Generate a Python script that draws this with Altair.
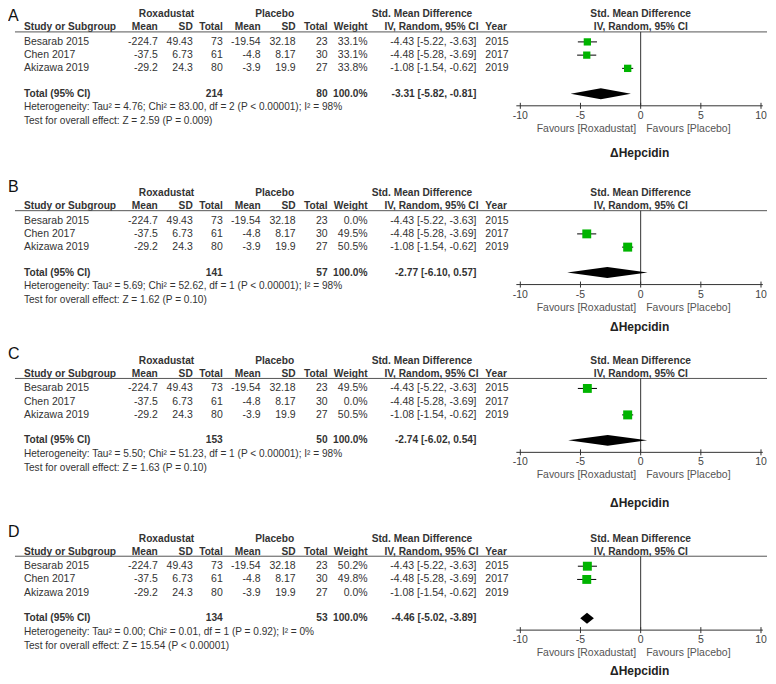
import altair as alt
import pandas as pd

# ---------------- data ----------------
studies = ["Besarab 2015", "Chen 2017", "Akizawa 2019"]
years = [2015, 2017, 2019]
rox_mean = [-224.7, -37.5, -29.2]
rox_sd = [49.43, 6.73, 24.3]
rox_n = [73, 61, 80]
pla_mean = [-19.54, -4.8, -3.9]
pla_sd = [32.18, 8.17, 19.9]
pla_n = [23, 30, 27]
smd = [-4.43, -4.48, -1.08]
smd_lo = [-5.22, -5.28, -1.54]
smd_hi = [-3.63, -3.69, -0.62]

panel_names = ["A", "B", "C", "D"]
panel_weights = [
    [33.1, 33.1, 33.8],
    [0.0, 49.5, 50.5],
    [49.5, 0.0, 50.5],
    [50.2, 49.8, 0.0],
]
total_rox = [214, 141, 153, 134]
total_pla = [80, 57, 50, 53]
pooled = [-3.31, -2.77, -2.74, -4.46]
pooled_lo = [-5.82, -6.10, -6.02, -5.02]
pooled_hi = [-0.81, 0.57, 0.54, -3.89]
heterogeneity = [
    "Heterogeneity: Tau\u00b2 = 4.76; Chi\u00b2 = 83.00, df = 2 (P < 0.00001); I\u00b2 = 98%",
    "Heterogeneity: Tau\u00b2 = 5.69; Chi\u00b2 = 52.62, df = 1 (P < 0.00001); I\u00b2 = 98%",
    "Heterogeneity: Tau\u00b2 = 5.50; Chi\u00b2 = 51.23, df = 1 (P < 0.00001); I\u00b2 = 98%",
    "Heterogeneity: Tau\u00b2 = 0.00; Chi\u00b2 = 0.01, df = 1 (P = 0.92); I\u00b2 = 0%",
]
overall_test = [
    "Test for overall effect: Z = 2.59 (P = 0.009)",
    "Test for overall effect: Z = 1.62 (P = 0.10)",
    "Test for overall effect: Z = 1.63 (P = 0.10)",
    "Test for overall effect: Z = 15.54 (P < 0.00001)",
]
axis_ticks = [-10, -5, 0, 5, 10]
outcome = "\u0394Hepcidin"
favours_left = "Favours [Roxadustat]"
favours_right = "Favours [Placebo]"

# ---------------- layout / style ----------------
FONT = "Liberation Sans"
TXT = "#333333"
GREEN = "#00b400"
W = 760
PANEL_H = [170, 168, 176, 154]
HEAD_Y = [5, 14, 14, 16]
OUTCOME_DY = [139, 134, 142, 132]
X_DOMAIN = [-10, 10]
X_RANGE = [513, 754]
XS = alt.Scale(domain=X_DOMAIN, range=X_RANGE)
FS = 10.5
FSB = 10.2
NP = len(panel_names)


def x_px(v):
    # same linear mapping as the x scale (for the reference lines only)
    return X_RANGE[0] + (v - X_DOMAIN[0]) / (X_DOMAIN[1] - X_DOMAIN[0]) * (X_RANGE[1] - X_RANGE[0])


tops = [sum(PANEL_H[:k]) for k in range(NP)]
R = [tops[k] + HEAD_Y[k] for k in range(NP)]
Y_LINE = [r + 17.5 for r in R]
Y_TOTAL = [r + 79.5 for r in R]
Y_AXIS = [r + 91.5 for r in R]


def texts(values, x, ys, align="left", bold=False, size=FS, color=TXT):
    if isinstance(values, str):
        values = [values] * len(ys)
    d = pd.DataFrame({"t": values, "ty": ys})
    return alt.Chart(d).mark_text(
        align=align, baseline="middle", font=FONT, fontSize=size,
        fontWeight="bold" if bold else "normal", color=color,
    ).encode(
        x=alt.value(x),
        y=alt.Y("ty:Q", scale=None, axis=None),
        text="t:N",
    )


recs = []
for k in range(NP):
    for i in range(len(studies)):
        w = panel_weights[k][i]
        recs.append({
            "panel": panel_names[k],
            "study": studies[i],
            "rm": f"{rox_mean[i]:g}",
            "rsd": f"{rox_sd[i]:g}",
            "rn": str(rox_n[i]),
            "pm": f"{pla_mean[i]:g}",
            "psd": f"{pla_sd[i]:g}",
            "pn": str(pla_n[i]),
            "w": w,
            "wt": f"{w:.1f}%",
            "ci": f"{smd[i]:.2f} [{smd_lo[i]:.2f}, {smd_hi[i]:.2f}]",
            "year": str(years[i]),
            "smd": smd[i],
            "lo": smd_lo[i],
            "hi": smd_hi[i],
            "y": R[k] + 27.5 + 13.25 * i,
        })
rows = pd.DataFrame(recs)


def column(field, x, align="right"):
    return alt.Chart(rows).mark_text(
        align=align, baseline="middle", font=FONT, fontSize=FS, color=TXT
    ).encode(
        x=alt.value(x),
        y=alt.Y("y:Q", scale=None, axis=None),
        text=f"{field}:N",
    )


layers = []
layers.append(texts(panel_names, 0, [max(r - 6.5, 7) for r in R], size=16, color="#111"))
H1 = R
H2 = [r + 13 for r in R]
layers += [
    texts("Roxadustat", 158.7, H1, "center", True, FSB),
    texts("Placebo", 267, H1, "center", True, FSB),
    texts("Std. Mean Difference", 414.5, H1, "center", True, FSB),
    texts("Std. Mean Difference", 633.5, H1, "center", True, FSB),
    texts("Study or Subgroup", 16, H2, "left", True, FSB),
    texts("Mean", 150, H2, "right", True, FSB),
    texts("SD", 185, H2, "right", True, FSB),
    texts("Total", 215, H2, "right", True, FSB),
    texts("Mean", 253, H2, "right", True, FSB),
    texts("SD", 288, H2, "right", True, FSB),
    texts("Total", 320, H2, "right", True, FSB),
    texts("Weight", 360, H2, "right", True, FSB),
    texts("IV, Random, 95% CI", 424, H2, "center", True, FSB),
    texts("Year", 478, H2, "left", True, FSB),
    texts("IV, Random, 95% CI", 633.7, H2, "center", True, FSB),
]
# header rules
layers.append(
    alt.Chart(pd.DataFrame({"hy": Y_LINE})).mark_rule(color="#555", strokeWidth=1).encode(
        x=alt.value(7), x2=alt.value(W), y=alt.Y("hy:Q", scale=None, axis=None)
    )
)
# zero (no-effect) lines and axis lines
layers.append(
    alt.Chart(pd.DataFrame({"zy0": Y_LINE, "zy1": Y_AXIS})).mark_rule(color="#333", strokeWidth=1).encode(
        x=alt.value(x_px(0)), y=alt.Y("zy0:Q", scale=None, axis=None), y2="zy1:Q"
    )
)
layers.append(
    alt.Chart(pd.DataFrame({"ay": Y_AXIS})).mark_rule(color="#333", strokeWidth=1).encode(
        x=alt.value(x_px(min(axis_ticks) - 0.33)), x2=alt.value(x_px(max(axis_ticks) + 0.15)),
        y=alt.Y("ay:Q", scale=None, axis=None),
    )
)
layers += [
    column("study", 16, "left"),
    column("rm", 150),
    column("rsd", 185),
    column("rn", 215),
    column("pm", 253),
    column("psd", 288),
    column("pn", 320),
    column("wt", 360),
    column("ci", 469),
    column("year", 478, "left"),
]
layers += [
    texts("Total (95% CI)", 16, Y_TOTAL, "left", True, FSB),
    texts([str(v) for v in total_rox], 215, Y_TOTAL, "right", True, FSB),
    texts([str(v) for v in total_pla], 320, Y_TOTAL, "right", True, FSB),
    texts("100.0%", 360, Y_TOTAL, "right", True, FSB),
    texts([f"{a:.2f} [{b:.2f}, {c:.2f}]" for a, b, c in zip(pooled, pooled_lo, pooled_hi)],
          469, Y_TOTAL, "right", True, FSB),
    texts(heterogeneity, 16, [r + 93 for r in R], size=10.1),
    texts(overall_test, 16, [r + 107 for r in R], size=10.1),
]

# ---- forest plots: data positions go through the x scale ----
gx, gy, gy2 = [], [], []
for k in range(NP):
    for t in axis_ticks:
        gx += [t]; gy += [Y_AXIS[k] - 3]; gy2 += [Y_AXIS[k] + 3]
ticks = alt.Chart(pd.DataFrame({"gx": gx, "gy": gy, "gy2": gy2})).mark_rule(
    color="#333", strokeWidth=1
).encode(
    x=alt.X("gx:Q", scale=XS, axis=None),
    y=alt.Y("gy:Q", scale=None, axis=None),
    y2="gy2:Q",
)
tl = pd.DataFrame({
    "tv": axis_ticks * NP,
    "tlab": [str(v) for v in axis_ticks] * NP,
    "tly": [Y_AXIS[k] + 10 for k in range(NP) for _ in axis_ticks],
})
tick_labels = alt.Chart(tl).mark_text(
    font=FONT, fontSize=FS, color="#444", baseline="middle", align="center"
).encode(
    x=alt.X("tv:Q", scale=XS, axis=None),
    y=alt.Y("tly:Q", scale=None, axis=None),
    text="tlab:N",
)
ci = alt.Chart(rows).transform_filter("datum.w > 0").mark_rule(color="black", strokeWidth=1).encode(
    x=alt.X("lo:Q", scale=XS, axis=None),
    x2="hi:Q",
    y=alt.Y("y:Q", scale=None, axis=None),
)
squares = alt.Chart(rows).transform_filter("datum.w > 0").mark_square(
    filled=True, color=GREEN, opacity=1
).encode(
    x=alt.X("smd:Q", scale=XS, axis=None),
    y=alt.Y("y:Q", scale=None, axis=None),
    size=alt.Size("w:Q", scale=alt.Scale(domain=[0, 100], range=[0, 160]), legend=None),
)
drec = []
for k in range(NP):
    yt = Y_TOTAL[k]
    drec += [
        {"dp": panel_names[k], "dx": pooled_lo[k], "dtop": yt, "dbot": yt},
        {"dp": panel_names[k], "dx": pooled[k], "dtop": yt - 5.5, "dbot": yt + 5.5},
        {"dp": panel_names[k], "dx": pooled_hi[k], "dtop": yt, "dbot": yt},
    ]
diamond = alt.Chart(pd.DataFrame(drec)).mark_area(color="black", opacity=1, interpolate="linear").encode(
    x=alt.X("dx:Q", scale=XS, axis=None),
    y=alt.Y("dtop:Q", scale=None, axis=None),
    y2="dbot:Q",
    detail="dp:N",
)
layers += [ticks, ci, tick_labels, squares, diamond]
layers += [
    texts(favours_left, 629, [y + 23 for y in Y_AXIS], "right", color="#555"),
    texts(favours_right, 639, [y + 23 for y in Y_AXIS], "left", color="#555"),
    texts(outcome, 632.5, [R[k] + OUTCOME_DY[k] for k in range(NP)], "center", True, 12, "#222"),
]

chart = alt.layer(*layers).properties(
    width=W, height=sum(PANEL_H), padding=0, background="white"
).configure_view(stroke=None)

chart.save("out.html", embed_options={"renderer": "svg", "actions": False})
